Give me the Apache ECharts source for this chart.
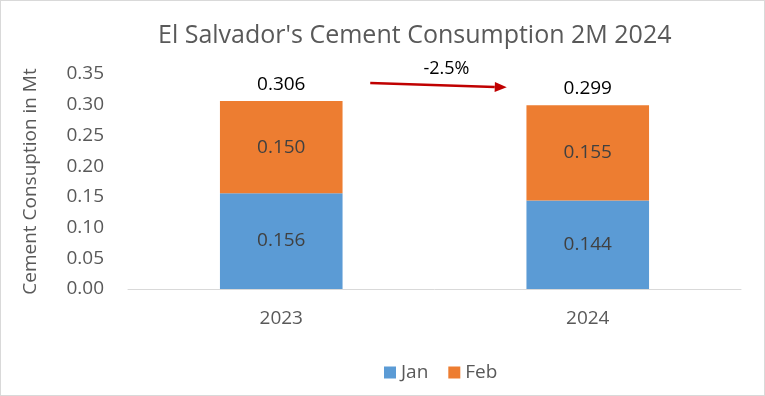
<!DOCTYPE html>
<html><head><meta charset="utf-8">
<script src="https://cdn.jsdelivr.net/npm/echarts@6/dist/echarts.min.js"></script>
<style>
html,body{margin:0;padding:0;background:#fff;}
#c{width:763px;height:394px;border:1px solid #d9d9d9;}
</style></head>
<body><div id="c"></div>
<script>
const categories = ['2023', '2024'];
const janValues = [0.156, 0.144];
const febValues = [0.150, 0.155];
const totals = [0.306, 0.299];
const changeLabel = '-2.5%';
const yTicks = [0, 0.05, 0.10, 0.15, 0.20, 0.25, 0.30, 0.35];

const FONT = '"Open Sans", "Liberation Sans", sans-serif';
const chart = echarts.init(document.getElementById('c'));
const option = {
  animation: false,
  title: {
    text: "El Salvador's Cement Consumption 2M 2024",
    left: 152, top: 17,
    textStyle: {fontFamily: FONT, fontSize: 25, fontWeight: 'normal', color: '#595959'}
  },
  grid: {left: 127, right: 23, top: 73, bottom: 106, containLabel: false},
  legend: {
    data: ['Jan', 'Feb'], bottom: 8, left: 378, icon: 'rect',
    itemWidth: 12, itemHeight: 12, itemGap: 20,
    textStyle: {fontFamily: FONT, fontSize: 19, color: '#595959'}
  },
  xAxis: {
    type: 'category', data: categories,
    axisLine: {lineStyle: {color: '#d9d9d9', width: 1}},
    axisTick: {show: false},
    axisLabel: {fontFamily: FONT, fontSize: 19, color: '#595959', margin: 20}
  },
  yAxis: {
    type: 'value', min: 0, max: 0.35, interval: 0.05,
    name: 'Cement Consuption in Mt', nameLocation: 'middle', nameGap: 88, nameRotate: 90,
    nameTextStyle: {fontFamily: FONT, fontSize: 19, color: '#595959'},
    splitLine: {show: false}, axisLine: {show: false}, axisTick: {show: false},
    axisLabel: {fontFamily: FONT, fontSize: 19, color: '#595959', margin: 24,
      formatter: v => v.toFixed(2)}
  },
  series: [
    {name: 'Jan', type: 'bar', stack: 't', data: janValues, barWidth: '40%',
     itemStyle: {color: '#5B9BD5'},
     label: {show: true, position: 'inside', fontFamily: FONT, fontSize: 19, color: '#404040',
       formatter: p => p.value.toFixed(3)}},
    {name: 'Feb', type: 'bar', stack: 't', data: febValues, barWidth: '40%',
     itemStyle: {color: '#ED7D31'},
     label: {show: true, position: 'inside', fontFamily: FONT, fontSize: 19, color: '#404040',
       formatter: p => p.value.toFixed(3)}},
    {name: 'Total', type: 'bar', stack: 't', data: totals.map(() => 0), barWidth: '40%',
     itemStyle: {color: 'transparent'}, legendHoverLink: false,
     label: {show: true, position: 'top', distance: 7, fontFamily: FONT, fontSize: 19,
       fontWeight: 500, color: '#000',
       formatter: p => totals[p.dataIndex].toFixed(3)}}
  ]
};
chart.setOption(option);

// Change arrow annotation between the two bars
const p1 = chart.convertToPixel({seriesIndex: 0}, [0, totals[0]]);
const p2 = chart.convertToPixel({seriesIndex: 0}, [1, totals[1]]);
const x1 = p1[0] + 89, y1 = p1[1] - 18;
const x2 = p2[0] - 81, y2 = p2[1] - 18;
const ang = Math.atan2(y2 - y1, x2 - x1);
const hl = 12, hw = 5;
const bx = x2 - hl * Math.cos(ang), by = y2 - hl * Math.sin(ang);
chart.setOption({
  graphic: [
    {type: 'line', shape: {x1: x1, y1: y1, x2: bx, y2: by},
     style: {stroke: '#C00000', lineWidth: 2.5}},
    {type: 'polygon', shape: {points: [[x2, y2],
      [bx - hw * Math.sin(ang), by + hw * Math.cos(ang)],
      [bx + hw * Math.sin(ang), by - hw * Math.cos(ang)]]},
     style: {fill: '#C00000'}},
    {type: 'text', x: (x1 + x2) / 2 + 8, y: y1 - 14,
     style: {text: changeLabel, fontFamily: FONT, fontSize: 18, fill: '#000',
       align: 'center', verticalAlign: 'middle'}}
  ]
});
</script></body></html>
